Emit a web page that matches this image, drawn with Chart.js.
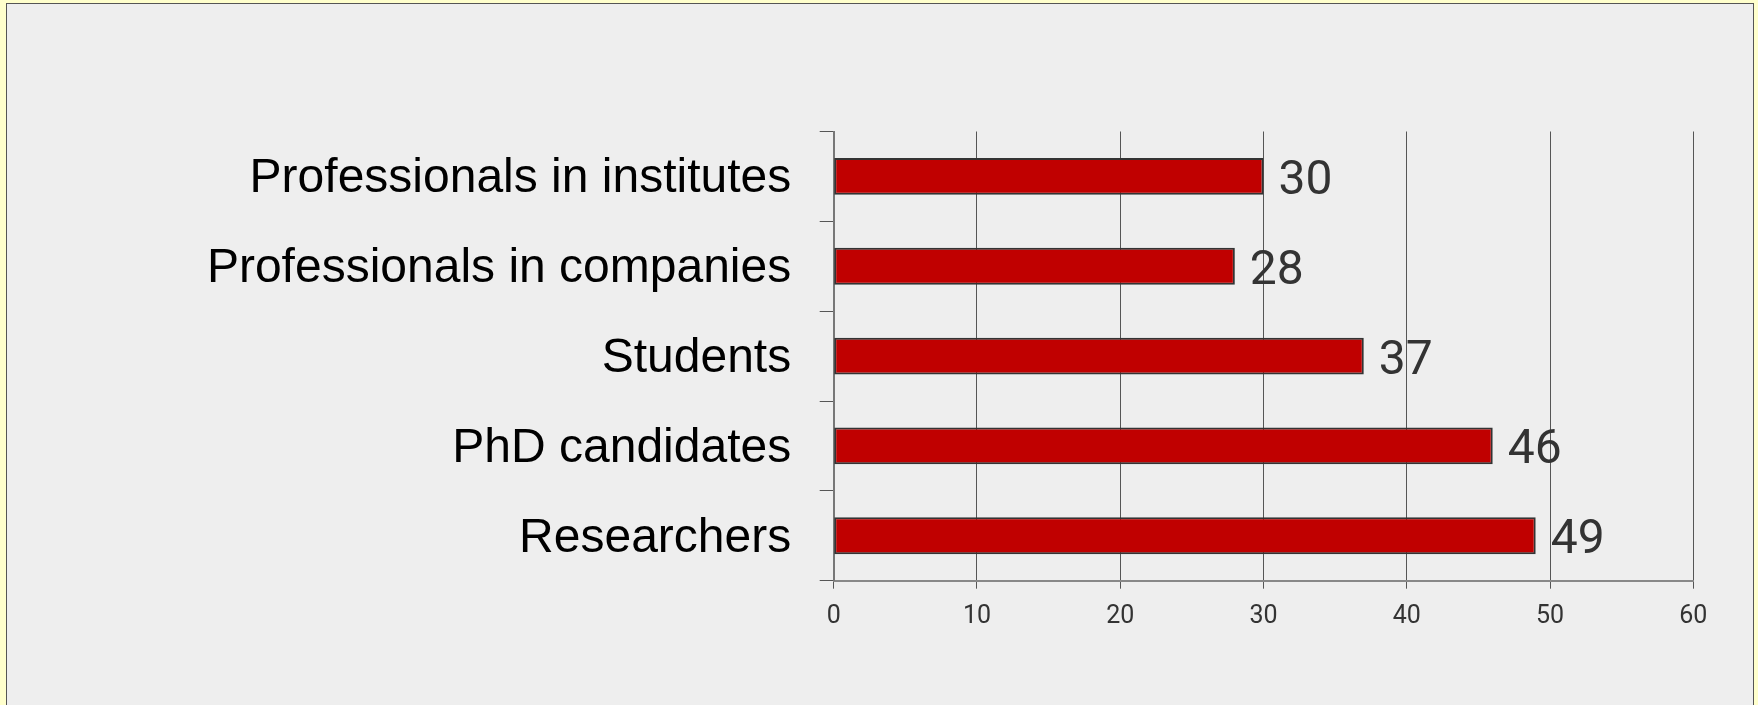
<!DOCTYPE html>
<html>
<head>
<meta charset="utf-8">
<script src="https://cdn.jsdelivr.net/npm/chart.js@4/dist/chart.umd.min.js"></script>
<style>
  html, body { margin: 0; padding: 0; width: 1758px; height: 705px; overflow: hidden; background: #ffffcc; }
  #panel { position: absolute; left: 6px; top: 3px; width: 1748px; height: 760px; box-sizing: border-box;
           background: #eeeeee; border: 1px solid #555; }
  #c { position: absolute; left: 0; top: 0; }
</style>
</head>
<body>
<div id="panel"></div>
<canvas id="c" width="1758" height="705"></canvas>
<script>
const categories = ["Professionals in institutes", "Professionals in companies", "Students", "PhD candidates", "Researchers"];
const values = [30, 28, 37, 46, 49];
const xTicks = [0, 10, 20, 30, 40, 50, 60];

const valueLabels = {
  id: 'valueLabels',
  afterDatasetsDraw(chart) {
    const ctx = chart.ctx;
    const meta = chart.getDatasetMeta(0);
    ctx.save();
    ctx.font = '48px Roboto';
    ctx.fillStyle = '#333333';
    ctx.textAlign = 'left';
    ctx.textBaseline = 'alphabetic';
    meta.data.forEach((bar, i) => {
      ctx.fillText(String(values[i]), bar.x + 15, bar.y + 17.5);
    });
    ctx.restore();
  }
};

new Chart(document.getElementById('c'), {
  type: 'bar',
  data: {
    labels: categories,
    datasets: [{
      data: values,
      backgroundColor: '#c00000',
      borderColor: '#333333',
      borderWidth: 2,
      borderSkipped: false,
      barPercentage: 0.41,
      categoryPercentage: 1.0
    }]
  },
  plugins: [valueLabels],
  options: {
    indexAxis: 'y',
    responsive: false,
    animation: false,
    devicePixelRatio: 1,
    layout: { padding: { left: 0, right: 64.7, top: 131.5, bottom: 0 } },
    plugins: { legend: { display: false }, tooltip: { enabled: false } },
    scales: {
      x: {
        type: 'linear',
        min: 0, max: 60,
        afterBuildTicks(scale) { scale.ticks = xTicks.map(v => ({ value: v })); },
        afterFit(scale) { scale.height = 705 - 580.7; },
        grid: { color: '#555555', lineWidth: 1, tickLength: 8, drawTicks: true },
        border: { color: '#888888', width: 2 },
        ticks: { font: { family: 'Roboto', size: 25 }, color: '#333333', padding: 13, maxRotation: 0 }
      },
      y: {
        afterFit(scale) { scale.width = 833.7; },
        grid: { drawOnChartArea: false, drawTicks: true, tickLength: 14, color: '#555555', offset: true },
        border: { color: '#777777', width: 2 },
        ticks: { font: { family: "'Liberation Sans', Arial, sans-serif", size: 48 }, color: '#000000', padding: 28.5, labelOffset: 2.5 }
      }
    }
  }
});
</script>
</body>
</html>
